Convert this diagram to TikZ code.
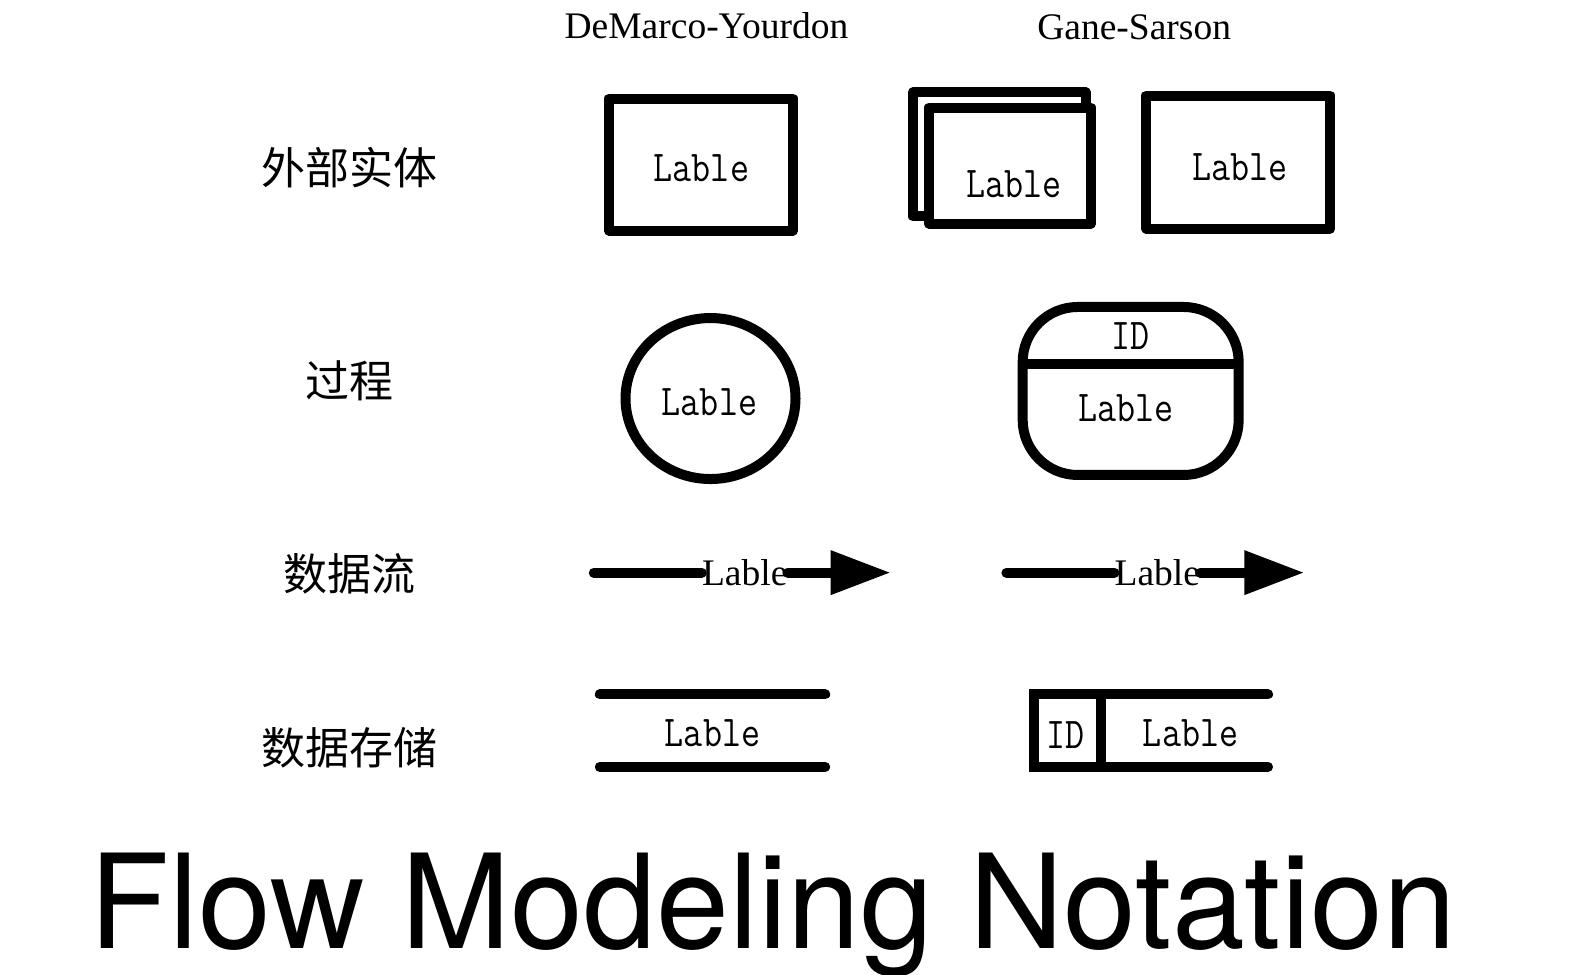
\documentclass[tikz,border=0pt]{standalone}
\usepackage{fontspec}
\setmainfont{Liberation Serif}
\newfontfamily\cjk{Noto Sans CJK SC}
\newfontfamily\monofont[FakeStretch=0.84]{Latin Modern Mono}
\newfontfamily\titlefont{TeX Gyre Heros}
\usetikzlibrary{arrows.meta,shapes.geometric}
\begin{document}
\begin{tikzpicture}[x=1.0064pt,y=-1.0064pt,
  thickline/.style={draw,line width=10pt,line join=round},
  lbl/.style={font=\monofont\fontsize{44}{44}\selectfont,inner sep=0pt},
  cjklbl/.style={font=\cjk\fontsize{44}{44}\selectfont,inner sep=0pt},
  hdr/.style={font=\fontsize{37.5}{37.5}\selectfont,anchor=base,inner sep=0pt},
  flowlbl/.style={font=\fontsize{37.5}{37.5}\selectfont,inner sep=0pt},
  flowline/.style={line width=10pt,line cap=round},
  storeline/.style={line width=10pt,line cap=round}]
\useasboundingbox[fill=white] (0,0) rectangle (1568,968);

% headers
\node[hdr] (h1) at (702,38) {DeMarco-Yourdon};
\node[hdr] (h2) at (1127,39) {Gane-Sarson};

% row labels
\node[cjklbl] (r1) at (347,167) {外部实体};
\node[cjklbl] (r2) at (347,378) {过程};
\node[cjklbl] (r3) at (347,570) {数据流};
\node[cjklbl] (r4) at (347,743) {数据存储};

% row 1: external entity
\node[thickline,minimum width=184pt,minimum height=132pt,inner sep=0pt] (dm1) at (696.5,163.5) {};
\node[lbl] (dm1l) at (697,167) {Lable};
\node[thickline,minimum width=173pt,minimum height=124pt,inner sep=0pt] (gs1b) at (993,153.5) {};
\node[thickline,fill=white,minimum width=162pt,minimum height=116pt,inner sep=0pt] (gs1f) at (1003.5,164.5) {};
\node[lbl] (gs1fl) at (1008,183) {Lable};
\node[thickline,minimum width=184pt,minimum height=133pt,inner sep=0pt] (gs1) at (1230.5,161) {};
\node[lbl] (gs1l) at (1232,166) {Lable};

% row 2: process
\node[thickline,ellipse,minimum width=170pt,minimum height=161pt,inner sep=0pt] (dm2) at (706,396) {};
\node[lbl] (dm2l) at (705,400) {Lable};
\node[thickline,rounded corners=55pt,minimum width=216pt,minimum height=168pt,inner sep=0pt] (gs2) at (1123.5,388.5) {};
\coordinate (gs2dl) at (1016,362);
\coordinate (gs2dr) at (1231,362);
\draw[line width=10pt] (gs2dl) -- (gs2dr);
\node[lbl] (gs2id) at (1123,334) {ID};
\node[lbl] (gs2l) at (1119,406) {Lable};

% row 3: data flow
\coordinate (f1s) at (590,569);
\node[flowlbl] (f1l) at (740,569) {Lable};
\coordinate (f1e) at (885,569);
\draw[flowline] (f1s) -- (f1l.west);
\draw[flowline,-{Triangle[length=60pt,width=42pt]}] (f1l.east) -- (f1e);
\coordinate (f2s) at (1000,569);
\node[flowlbl] (f2l) at (1150,569) {Lable};
\coordinate (f2e) at (1296,569);
\draw[flowline] (f2s) -- (f2l.west);
\draw[flowline,-{Triangle[length=60pt,width=42pt]}] (f2l.east) -- (f2e);

% row 4: data store
\coordinate (s1a) at (596,690);
\coordinate (s1b) at (820,690);
\coordinate (s1c) at (596,762);
\coordinate (s1d) at (820,762);
\draw[storeline] (s1a) -- (s1b);
\draw[storeline] (s1c) -- (s1d);
\node[lbl] (s1l) at (708,729) {Lable};
\coordinate (s2tr) at (1260,690);
\coordinate (s2tl) at (1027,690);
\coordinate (s2bl) at (1027,762);
\coordinate (s2br) at (1260,762);
\coordinate (s2dt) at (1094,690);
\coordinate (s2db) at (1094,762);
\draw[storeline] (s2tr) -- (s2tl) -- (s2bl) -- (s2br);
\draw[line width=10pt] (s2dt) -- (s2db);
\node[lbl] (s2id) at (1059,730) {ID};
\node[lbl] (s2l) at (1183,729) {Lable};

% title
\node[anchor=base,font=\titlefont\fontsize{131}{131}\selectfont,inner sep=0pt] (title) at (768,942) {Flow Modeling Notation};
\end{tikzpicture}
\end{document}
